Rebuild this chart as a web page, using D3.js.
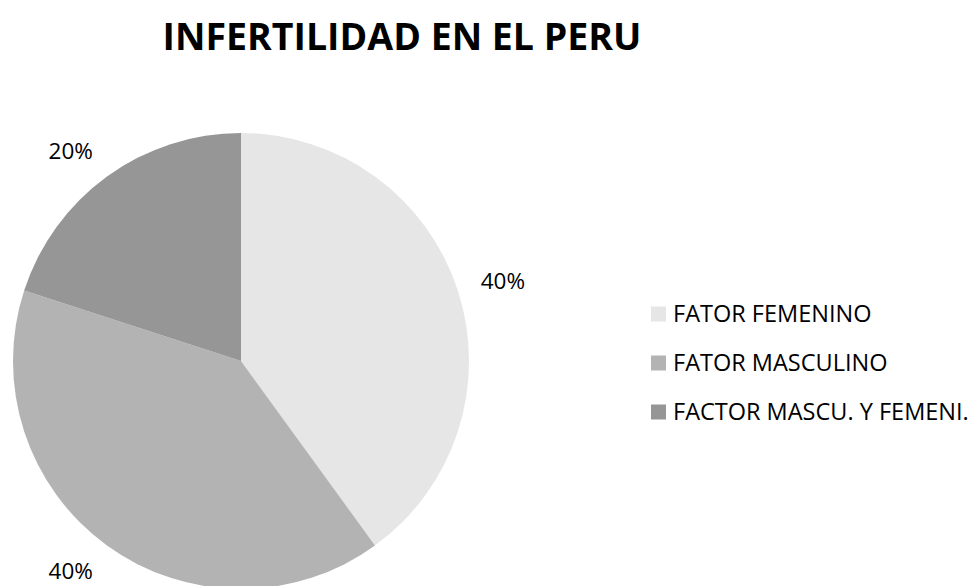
<!DOCTYPE html>
<html lang="en">
<head>
<meta charset="UTF-8">
<title>Infertilidad en el Peru</title>
<script src="https://cdn.jsdelivr.net/npm/d3@7"></script>
<style>
  body { margin: 0; background: #fff; }
  text { font-family: "Open Sans", "Noto Sans", sans-serif; fill: #000; }
</style>
</head>
<body>
<script>
    var categories = ["FATOR FEMENINO", "FATOR MASCULINO", "FACTOR MASCU. Y FEMENI."];
    var values = [40, 40, 20];
    var labels = ["40%", "40%", "20%"];
    var colors = ["#e6e6e6", "#b3b3b3", "#969696"];

    var width = 972, height = 586;
    var cx = 241, cy = 361, radius = 228;

    var svg = d3.select("body").append("svg")
        .attr("width", width)
        .attr("height", height);

    svg.append("text")
        .attr("x", 402)
        .attr("y", 50)
        .attr("text-anchor", "middle")
        .style("font-size", "37.5px")
        .style("font-weight", "bold")
        .text("INFERTILIDAD EN EL PERU");

    var pie = d3.pie().sort(null).value(function (d) { return d; });
    var arcs = pie(values);

    var arc = d3.arc().innerRadius(0).outerRadius(radius);
    var labelArc = d3.arc().innerRadius(radius + 24).outerRadius(radius + 24);

    var g = svg.append("g")
        .attr("transform", "translate(" + cx + "," + cy + ")");

    g.selectAll("path")
        .data(arcs)
        .enter()
        .append("path")
        .attr("d", arc)
        .attr("fill", function (d, i) { return colors[i]; });

    // labels sit outside the pie, pushed out by half their glyph box
    var lbl = g.selectAll("text")
        .data(arcs)
        .enter()
        .append("text")
        .attr("text-anchor", "middle")
        .attr("dy", "0.35em")
        .style("font-size", "22.5px")
        .text(function (d, i) { return labels[i]; });

    lbl.attr("transform", function (d) {
        var c = labelArc.centroid(d),
            b = this.getBBox(),
            a = (d.startAngle + d.endAngle) / 2,
            ox = (Math.sin(a) >= 0 ? 1 : -1) * b.width / 2,
            oy = -Math.cos(a) * b.height / 4;
        return "translate(" + (c[0] + ox) + "," + (c[1] + oy) + ")";
    });

    var legend = svg.append("g")
        .selectAll("g")
        .data(categories)
        .enter()
        .append("g")
        .attr("transform", function (d, i) { return "translate(651," + (314 + i * 49) + ")"; });

    legend.append("rect")
        .attr("x", 0)
        .attr("y", -7.5)
        .attr("width", 15)
        .attr("height", 15)
        .attr("fill", function (d, i) { return colors[i]; });

    legend.append("text")
        .attr("x", 22)
        .attr("dy", "0.35em")
        .style("font-size", "23.5px")
        .text(function (d) { return d; });
</script>
</body>
</html>
